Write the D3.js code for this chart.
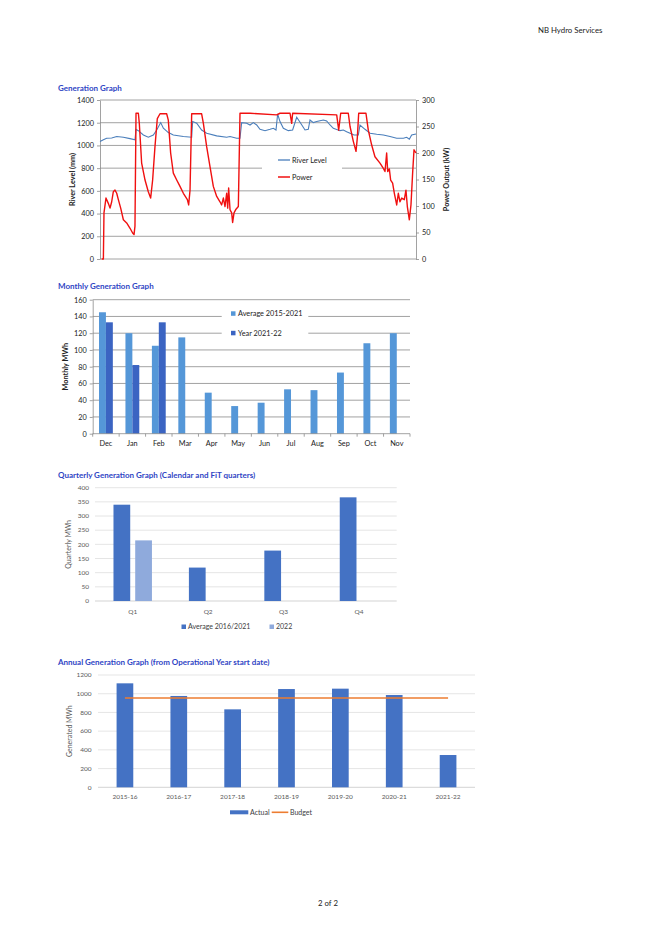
<!DOCTYPE html>
<html><head><meta charset="utf-8">
<script src="https://cdn.jsdelivr.net/npm/d3@7"></script>
<style>body{margin:0;background:#fff}svg{display:block}text{font-family:Lato,"Open Sans",sans-serif}</style>
</head><body><svg id="c" width="659" height="933"></svg>
<script>
// ---------- DATA ----------
// Generation graph (day of operational year, Dec..Nov)
const levelDay = [0,3.9,7.7,13.5,19.3,27,34.7,40.4,41.6,44.3,50.1,55.8,61.6,65.5,70.1,73.2,78.9,84.7,96.3,105.9,107,111.7,117.4,123.2,134.8,146.3,150.2,157.9,161.7,163.6,169.4,173.3,177.1,181,184.8,190.6,196.4,200.2,203.3,205.2,207.9,211.8,217.5,222.5,227.2,231.8,236.8,240.6,242.6,246.4,250.3,254.1,258,261.8,265.7,269.5,277.2,281.1,284.9,288.8,293.4,298.4,300.3,306.1,311.9,319.6,327.3,335,342.7,350.4,354.2,357.3,360,365];
const levelMM = [1034,1049,1063,1066,1078,1072,1060,1049,1142,1130,1092,1072,1092,1136,1201,1151,1113,1092,1078,1072,1210,1195,1136,1107,1084,1072,1078,1063,1063,1201,1195,1180,1201,1180,1142,1130,1142,1151,1136,1277,1210,1151,1130,1136,1248,1195,1136,1142,1224,1201,1210,1218,1224,1215,1180,1151,1130,1136,1121,1107,1092,1092,1180,1142,1107,1098,1092,1078,1063,1063,1072,1054,1092,1101];
const powerDay = [1.9,3.9,4.6,6.9,9.6,11.6,13.5,15.4,17.3,19.3,21.2,23.9,27,30.8,34.7,37.7,39.3,40.4,41.6,44.3,45.4,48.1,52,55.8,58.5,60.8,63.5,66.2,69.3,77,78.9,81.6,84.7,88.6,92.4,96.3,100.9,102.4,104,105.9,117.4,119.4,123.2,127.1,130.9,134.8,138.6,140.5,142.5,144.4,146.3,147.5,148.6,150.2,152.1,153.2,154.8,157.1,159.8,161.7,173.3,204.1,207.9,219.5,221.4,222.5,273.4,275.7,278,286.8,288.8,292.6,295.7,297.2,298.8,307.2,309.9,313.8,317.6,323.4,327.3,329.2,331.1,332.3,334.2,335.7,338,340,342.7,344.6,346.5,348.5,351.5,353.4,355,357.3,359.2,361.1,362.7,365];
const powerKW = [0,0,87,115,105,96,108,127,130,124,112,96,74,68,58,49,46,62,275,275,256,181,149,127,115,149,212,265,274,274,262,200,162,149,137,124,112,102,130,274,274,256,212,174,137,118,108,102,115,99,124,96,134,93,87,69,87,94,99,275,275,272,275,275,256,275,272,243,275,275,250,222,203,228,275,275,243,215,193,181,171,165,200,165,170,149,143,124,102,124,108,115,112,130,99,74,102,162,206,200];
const levelTicks = [0,200,400,600,800,1000,1200,1400];
const powerTicks = [0,50,100,150,200,250,300];

// Monthly
const months = ["Dec","Jan","Feb","Mar","Apr","May","Jun","Jul","Aug","Sep","Oct","Nov"];
const monthlyAvg = [145,120,105,115,49,33,37,53,52,73,108,120];
const monthlyYear = [133,82,133,null,null,null,null,null,null,null,null,null];
const monthlyTicks = [0,20,40,60,80,100,120,140,160];

// Quarterly
const quarters = ["Q1","Q2","Q3","Q4"];
const quarterAvg = [340,118,178,366];
const quarter2022 = [214,null,null,null];
const quarterTicks = [0,50,100,150,200,250,300,350,400];

// Annual
const years = ["2015-16","2016-17","2017-18","2018-19","2019-20","2020-21","2021-22"];
const annualActual = [1111,976,833,1050,1054,986,345];
const annualBudget = [955,955,955,955,955,955,955];
const annualTicks = [0,200,400,600,800,1000,1200];

// ---------- DRAW ----------
const svg = d3.select('#c');
svg.append('rect').attr('width',659).attr('height',933).attr('fill','#fff');
const TITLE = '#2f45c4';
const fmt = d3.format('d');

function text(x,y,s,o={}){
  const t = svg.append('text').attr('x',x).attr('y',y).text(s)
    .attr('font-size',o.size||7).attr('fill',o.fill||'#222')
    .attr('text-anchor',o.anchor||'start');
  if(o.bold) t.attr('font-weight','bold');
  if(o.rot) t.attr('transform',`rotate(-90,${x},${y})`);
  return t;
}

text(538,33,'NB Hydro Services',{size:7.8});
text(328,906,'2 of 2',{size:7.8,anchor:'middle'});

// ===== Generation Graph =====
text(58,91,'Generation Graph',{size:8,bold:true,fill:TITLE});
{
  const L=100,R=416,T=100,B=259;
  const x = d3.scaleLinear([0,365],[L,R]);
  const yL = d3.scaleLinear([0,1400],[B,T]);
  const yR = d3.scaleLinear([0,300],[B,T]);
  const g = svg.append('g');
  g.selectAll('line.grid').data(levelTicks.slice(1)).join('line')
    .attr('x1',L).attr('x2',R).attr('y1',d=>yL(d)).attr('y2',d=>yL(d))
    .attr('stroke','#8a8a8a').attr('stroke-width',0.8);
  g.append('line').attr('x1',L).attr('x2',R).attr('y1',B).attr('y2',B).attr('stroke','#8a8a8a').attr('stroke-width',0.8);
  const ax = g.append('g').attr('transform',`translate(${L},0)`)
    .call(d3.axisLeft(yL).tickValues(levelTicks).tickFormat(fmt).tickSize(3).tickPadding(3).tickSizeOuter(0));
  const axr = g.append('g').attr('transform',`translate(${R},0)`)
    .call(d3.axisRight(yR).tickValues(powerTicks).tickFormat(fmt).tickSize(3).tickPadding(3).tickSizeOuter(0));
  [ax,axr].forEach(a=>{
    a.selectAll('path,line').attr('stroke','#8a8a8a').attr('stroke-width',0.8);
    a.selectAll('text').attr('font-size',7.3).attr('fill','#222').attr('font-family','Lato,sans-serif');
  });
  text(75,(T+B)/2,'River Level (mm)',{size:7.3,bold:true,anchor:'middle',rot:true});
  text(449,(T+B)/2,'Power Output (kW)',{size:7.3,bold:true,anchor:'middle',rot:true});
  // legend
  g.append('rect').attr('x',262).attr('y',154).attr('width',80).attr('height',30).attr('fill','#fff');
  g.append('line').attr('x1',278).attr('x2',290).attr('y1',160).attr('y2',160).attr('stroke','#4a7ebb').attr('stroke-width',1.3);
  g.append('line').attr('x1',278).attr('x2',290).attr('y1',177).attr('y2',177).attr('stroke','#f01010').attr('stroke-width',1.5);
  text(292,162.5,'River Level',{size:7.3});
  text(292,179.5,'Power',{size:7.3});
  const lvl = levelDay.map((d,i)=>[d,levelMM[i]]);
  const pow = powerDay.map((d,i)=>[d,powerKW[i]]);
  g.append('path').attr('d',d3.line().x(d=>x(d[0])).y(d=>yL(d[1]))(lvl))
    .attr('fill','none').attr('stroke','#4a7ebb').attr('stroke-width',1.1);
  g.append('path').attr('d',d3.line().x(d=>x(d[0])).y(d=>yR(d[1]))(pow))
    .attr('fill','none').attr('stroke','#f01010').attr('stroke-width',1.4).attr('stroke-linejoin','round');
}

// ===== Monthly =====
text(58,289,'Monthly Generation Graph',{size:8,bold:true,fill:TITLE});
{
  const L=92.7,R=410,T=299.7,B=433.7;
  const x = d3.scaleBand(months,[L,R]).paddingInner(0.477).paddingOuter(0.2385);
  const xs = d3.scaleBand(['avg','year'],[0,x.bandwidth()]);
  const y = d3.scaleLinear([0,160],[B,T]);
  const g = svg.append('g');
  g.selectAll('line.grid').data(monthlyTicks.slice(1)).join('line')
    .attr('x1',L).attr('x2',R).attr('y1',d=>y(d)).attr('y2',d=>y(d))
    .attr('stroke','#8a8a8a').attr('stroke-width',0.8);
  g.append('rect').attr('x',221.7).attr('y',306).attr('width',86.6).attr('height',33).attr('fill','#fff');
  g.append('rect').attr('x',231).attr('y',311.3).attr('width',4.5).attr('height',4.5).attr('fill','#5597d8');
  g.append('rect').attr('x',231).attr('y',330.8).attr('width',4.5).attr('height',4.5).attr('fill','#3b64c2');
  text(238,316,'Average 2015-2021',{size:7.3});
  text(238,335.5,'Year 2021-22',{size:7.3});
  g.selectAll('rect.a').data(months).join('rect')
    .attr('x',d=>x(d)+xs('avg')).attr('width',xs.bandwidth())
    .attr('y',(d,i)=>y(monthlyAvg[i])).attr('height',(d,i)=>B-y(monthlyAvg[i])).attr('fill','#5597d8');
  g.selectAll('rect.b').data(months.filter((d,i)=>monthlyYear[i]!=null)).join('rect')
    .attr('x',d=>x(d)+xs('year')).attr('width',xs.bandwidth())
    .attr('y',(d,i)=>y(monthlyYear[i])).attr('height',(d,i)=>B-y(monthlyYear[i])).attr('fill','#3b64c2');
  const ay = g.append('g').attr('transform',`translate(${L},0)`)
    .call(d3.axisLeft(y).tickValues(monthlyTicks).tickFormat(fmt).tickSize(3).tickPadding(3).tickSizeOuter(0));
  ay.selectAll('path,line').attr('stroke','#8a8a8a').attr('stroke-width',0.8);
  ay.selectAll('text').attr('font-size',7.3).attr('fill','#222').attr('font-family','Lato,sans-serif');
  g.append('line').attr('x1',L).attr('x2',R).attr('y1',B).attr('y2',B).attr('stroke','#8a8a8a').attr('stroke-width',0.8);
  const step = x.step();
  g.selectAll('line.tk').data(d3.range(months.length+1)).join('line')
    .attr('x1',i=>L+i*step).attr('x2',i=>L+i*step).attr('y1',B).attr('y2',B+3)
    .attr('stroke','#8a8a8a').attr('stroke-width',0.8);
  g.selectAll('text.m').data(months).join('text')
    .attr('x',d=>x(d)+x.bandwidth()/2).attr('y',446).attr('text-anchor','middle')
    .attr('font-size',7.3).attr('fill','#222').text(d=>d);
  text(68,(T+B)/2,'Monthly MWh',{size:7.3,bold:true,anchor:'middle',rot:true});
}

// ===== Quarterly =====
text(58,478,'Quarterly Generation Graph (Calendar and FiT quarters)',{size:8,bold:true,fill:TITLE});
{
  const L=95,R=396.7,T=487.7,B=601;
  const x = d3.scaleBand(quarters,[L,R]).paddingInner(0.49).paddingOuter(0.245);
  const xs = d3.scaleBand(['avg','y22'],[0,x.bandwidth()]).paddingInner(0.23);
  const y = d3.scaleLinear([0,400],[B,T]);
  const g = svg.append('g');
  g.selectAll('line.grid').data(quarterTicks).join('line')
    .attr('x1',L).attr('x2',R).attr('y1',d=>y(d)).attr('y2',d=>y(d))
    .attr('stroke',d=>d===0?'#c8c8c8':'#dedede').attr('stroke-width',0.8);
  g.selectAll('text.t').data(quarterTicks).join('text')
    .attr('x',89).attr('y',d=>y(d)+2.2).attr('text-anchor','end')
    .attr('font-size',6.5).attr('fill','#595959').text(d=>d);
  g.selectAll('rect.a').data(quarters).join('rect')
    .attr('x',d=>x(d)+xs('avg')).attr('width',xs.bandwidth())
    .attr('y',(d,i)=>y(quarterAvg[i])).attr('height',(d,i)=>B-y(quarterAvg[i])).attr('fill','#4472c4');
  g.selectAll('rect.b').data(quarters.filter((d,i)=>quarter2022[i]!=null)).join('rect')
    .attr('x',d=>x(d)+xs('y22')).attr('width',xs.bandwidth())
    .attr('y',(d,i)=>y(quarter2022[i])).attr('height',(d,i)=>B-y(quarter2022[i])).attr('fill','#8faadc');
  g.selectAll('text.q').data(quarters).join('text')
    .attr('x',d=>x(d)+x.bandwidth()/2).attr('y',614).attr('text-anchor','middle')
    .attr('font-size',6.5).attr('fill','#595959').text(d=>d);
  text(71.5,(T+B)/2,'Quarterly MWh',{size:7,fill:'#595959',anchor:'middle',rot:true});
  g.append('rect').attr('x',181.5).attr('y',624.5).attr('width',4.5).attr('height',4.5).attr('fill','#4472c4');
  text(188,629,'Average 2016/2021',{size:7,fill:'#404040'});
  g.append('rect').attr('x',269.5).attr('y',624.5).attr('width',4.5).attr('height',4.5).attr('fill','#8faadc');
  text(276,629,'2022',{size:7,fill:'#404040'});
}

// ===== Annual =====
text(58,665,'Annual Generation Graph (from Operational Year start date)',{size:8,bold:true,fill:TITLE});
{
  const L=98,R=475,T=675,B=787.3;
  const x = d3.scaleBand(years,[L,R]).paddingInner(0.69).paddingOuter(0.345);
  const y = d3.scaleLinear([0,1200],[B,T]);
  const g = svg.append('g');
  g.selectAll('line.grid').data(annualTicks).join('line')
    .attr('x1',L).attr('x2',R).attr('y1',d=>y(d)).attr('y2',d=>y(d))
    .attr('stroke',d=>d===0?'#c8c8c8':'#dedede').attr('stroke-width',0.8);
  g.selectAll('text.t').data(annualTicks).join('text')
    .attr('x',91.5).attr('y',d=>y(d)+2.2).attr('text-anchor','end')
    .attr('font-size',6.5).attr('fill','#595959').text(d=>d);
  g.selectAll('rect.a').data(years).join('rect')
    .attr('x',d=>x(d)).attr('width',x.bandwidth())
    .attr('y',(d,i)=>y(annualActual[i])).attr('height',(d,i)=>B-y(annualActual[i])).attr('fill','#4472c4');
  g.append('path').attr('d',d3.line().x(d=>x(d[0])+x.bandwidth()/2).y(d=>y(d[1]))(years.map((d,i)=>[d,annualBudget[i]])))
    .attr('fill','none').attr('stroke','#ed7d31').attr('stroke-width',1.6);
  g.selectAll('text.yr').data(years).join('text')
    .attr('x',d=>x(d)+x.bandwidth()/2).attr('y',799).attr('text-anchor','middle')
    .attr('font-size',6.5).attr('fill','#595959').text(d=>d);
  text(72,(T+B)/2,'Generated MWh',{size:7,fill:'#595959',anchor:'middle',rot:true});
  g.append('rect').attr('x',230).attr('y',810.3).attr('width',18.3).attr('height',4).attr('fill','#4472c4');
  text(250,814.5,'Actual',{size:7,fill:'#404040'});
  g.append('line').attr('x1',271.7).attr('x2',288.3).attr('y1',812.3).attr('y2',812.3).attr('stroke','#ed7d31').attr('stroke-width',1.6);
  text(290,814.5,'Budget',{size:7,fill:'#404040'});
}
</script></body></html>
